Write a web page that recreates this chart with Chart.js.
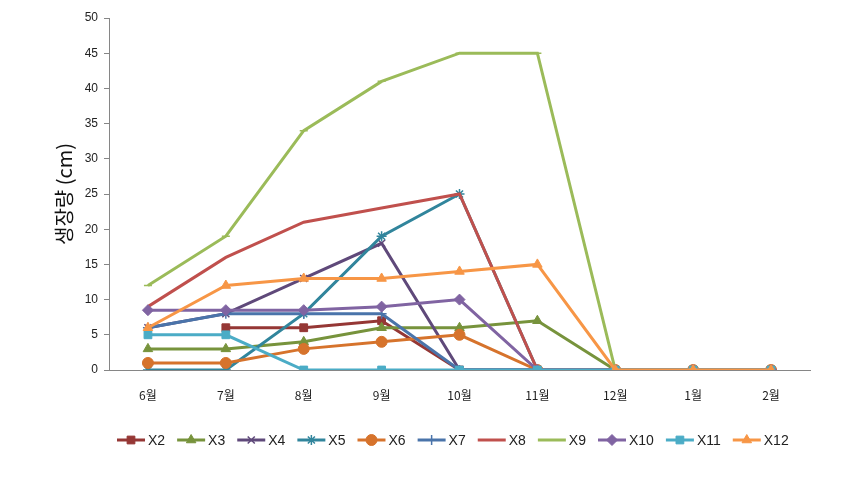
<!DOCTYPE html>
<html>
<head>
<meta charset="utf-8">
<script src="https://cdn.jsdelivr.net/npm/chart.js@4/dist/chart.umd.min.js"></script>
<style>
  html, body { margin: 0; padding: 0; background: #fff; }
  #wrap { width: 866px; height: 477px; position: relative; }
</style>
</head>
<body>
<div id="wrap"><canvas id="growthChart"></canvas></div>
<script>
// month labels on the x axis
const months = ['6월', '7월', '8월', '9월', '10월', '11월', '12월', '1월', '2월'];
const yTitle = '생장량 (cm)';

const x2  = [null, 6, 6, 7, 0, 0, 0, 0, 0];
const x3  = [3, 3, 4, 6, 6, 7, 0, 0, 0];
const x4  = [6, 8, 13, 18, 0, 0, 0, 0, 0];
const x5  = [0, 0, 8, 19, 25, 0, 0, 0, 0];
const x6  = [1, 1, 3, 4, 5, 0, 0, 0, 0];
const x7  = [6, 8, 8, 8, 0, 0, 0, 0, 0];
const x8  = [9, 16, 21, 23, 25, 0, 0, 0, 0];
const x9  = [12, 19, 34, 41, 45, 45, 0, 0, 0];
const x10 = [8.5, 8.5, 8.5, 9, 10, 0, 0, 0, 0];
const x11 = [5, 5, 0, 0, 0, 0, 0, 0, 0];
const x12 = [6, 12, 13, 13, 14, 15, 0, 0, 0];

const seriesNames = ['X2', 'X3', 'X4', 'X5', 'X6', 'X7', 'X8', 'X9', 'X10', 'X11', 'X12'];
const seriesData = [x2, x3, x4, x5, x6, x7, x8, x9, x10, x11, x12];

// excel-ish look per series
const styles = [
  { color: '#953735', point: 'rect', radius: 5.5 },
  { color: '#77933C', point: 'triangle', radius: 5.5 },
  { color: '#5F497A', point: 'crossRot', radius: 5 },
  { color: '#31859C', point: 'star', radius: 5 },
  { color: '#D6732C', point: 'circle', radius: 5.5 },
  { color: '#4A74AA', point: 'cross', radius: 5 },
  { color: '#C0504D', point: 'circle', radius: 0 },
  { color: '#9BBB59', point: 'line', radius: 4 },
  { color: '#8064A2', point: 'rectRot', radius: 5.5 },
  { color: '#4BACC6', point: 'rect', radius: 5.5 },
  { color: '#F79646', point: 'triangle', radius: 5.5 },
];

const thinMarks = ['crossRot', 'star', 'cross', 'line'];

const datasets = seriesNames.map((name, i) => ({
  label: name,
  data: seriesData[i],
  borderColor: styles[i].color,
  backgroundColor: styles[i].color,
  borderWidth: 3,
  pointStyle: styles[i].point,
  pointRadius: styles[i].radius,
  pointBorderWidth: thinMarks.includes(styles[i].point) ? 1.5 : 1,
  pointBackgroundColor: styles[i].color,
  pointBorderColor: styles[i].color,
  fill: false,
  tension: 0,
  spanGaps: false,
  order: seriesNames.length - 1 - i, // later series drawn on top
}));

// legend drawn by hand: short line + marker + label, like excel
const lineLegend = {
  id: 'lineLegend',
  afterDraw(chart) {
    const ctx = chart.ctx;
    const y = 440;
    let x = 117;
    ctx.save();
    ctx.font = '14px "Liberation Sans", Arial, sans-serif';
    ctx.textBaseline = 'middle';
    datasets.forEach((ds) => {
      ctx.strokeStyle = ds.borderColor;
      ctx.lineWidth = 3;
      ctx.beginPath();
      ctx.moveTo(x, y);
      ctx.lineTo(x + 28, y);
      ctx.stroke();
      if (ds.pointRadius > 0 && ds.pointStyle !== 'line') {
        ctx.fillStyle = ds.pointBackgroundColor;
        ctx.strokeStyle = ds.pointBorderColor;
        ctx.lineWidth = ds.pointBorderWidth;
        Chart.helpers.drawPoint(ctx, {
          pointStyle: ds.pointStyle,
          radius: ds.pointRadius,
          borderWidth: ds.pointBorderWidth,
          rotation: 0,
        }, x + 14, y);
      }
      ctx.fillStyle = '#222';
      ctx.fillText(ds.label, x + 31, y + 1);
      x += 31 + ctx.measureText(ds.label).width + 12;
    });
    ctx.restore();
  }
};

new Chart(document.getElementById('growthChart'), {
  type: 'line',
  data: { labels: months, datasets: datasets },
  plugins: [lineLegend],
  options: {
    responsive: true,
    maintainAspectRatio: false,
    animation: false,
    layout: { padding: { left: 52, right: 56, top: 18, bottom: 67 } },
    plugins: {
      legend: { display: false },
      tooltip: { enabled: false },
    },
    scales: {
      x: {
        offset: true,
        grid: { display: false },
        border: { display: true, color: '#868686', width: 1 },
        ticks: {
          color: '#222',
          padding: 10,
          font: { size: 12, family: '"Noto Sans CJK KR", sans-serif' },
        },
        afterFit: (s) => { s.height = 40; },
      },
      y: {
        min: 0,
        max: 50,
        ticks: {
          stepSize: 5,
          color: '#222',
          padding: 6,
          font: { size: 12, family: '"Liberation Sans", Arial, sans-serif' },
        },
        grid: { drawOnChartArea: false, drawTicks: true, tickLength: 5, color: '#868686' },
        border: { display: true, color: '#868686', width: 1 },
        title: {
          display: true,
          text: yTitle,
          color: '#111',
          padding: 0,
          font: { size: 20, family: '"Noto Sans CJK KR", sans-serif' },
        },
        afterFit: (s) => { s.width = 57; },
      },
    },
  },
});
</script>
</body>
</html>
